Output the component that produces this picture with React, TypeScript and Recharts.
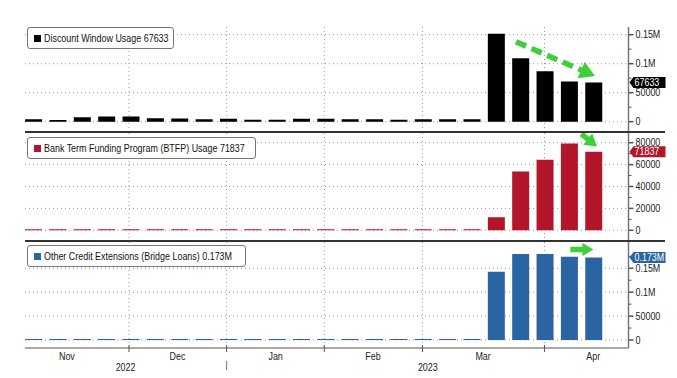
import React from 'react';
import { Bar, BarChart, CartesianGrid, ReferenceLine, XAxis, YAxis } from 'recharts';

// weekly H.4.1 readings, Wednesdays
const WEEKS = [
  '2022-11-02', '2022-11-09', '2022-11-16', '2022-11-23', '2022-11-30', '2022-12-07',
  '2022-12-14', '2022-12-21', '2022-12-28', '2023-01-04', '2023-01-11', '2023-01-18',
  '2023-01-25', '2023-02-01', '2023-02-08', '2023-02-15', '2023-02-22', '2023-03-01',
  '2023-03-08', '2023-03-15', '2023-03-22', '2023-03-29', '2023-04-05', '2023-04-12'
];
const DISCOUNT = [
  4000, 3000, 7500, 8800, 9000, 6000, 5500, 4000, 5000, 3500, 3500, 5000,
  5000, 4000, 4000, 3500, 4000, 4000, 4000, 151500, 109500, 87000, 69200, 67633
];
const BTFP = [
  0, 0, 0, 0, 0, 0, 0, 0, 0, 0, 0, 0,
  0, 0, 0, 0, 0, 0, 0, 11900, 53700, 64400, 79200, 71837
];
const OTHER = [
  0, 0, 0, 0, 0, 0, 0, 0, 0, 0, 0, 0,
  0, 0, 0, 0, 0, 0, 0, 142800, 179800, 180100, 174300, 172600
];

const MONTH_POS = [1.38, 5.92, 9.95, 13.95, 18.47, 22.99];
const MONTH_LABELS = ['Nov', 'Dec', 'Jan', 'Feb', 'Mar', 'Apr'];
const GRID_POS = [3.93, 7.94, 11.95, 15.98, 20.99];
const YEAR_POS = [3.79, 16.2];
const YEAR_LABELS = ['2022', '2023'];
const YEAR_SPLIT = 7.94;

const TICKS_DW = [0, 25000, 50000, 75000, 100000, 125000, 150000];
const GRID_DW = [0, 50000, 100000, 150000];
const TICKS_BTFP = [0, 10000, 20000, 30000, 40000, 50000, 60000, 70000, 80000];
const GRID_BTFP = [0, 20000, 40000, 60000, 80000];
const TICKS_OTHER = [0, 25000, 50000, 75000, 100000, 125000, 150000, 175000];
const GRID_OTHER = [0, 50000, 100000, 150000];

const rows = WEEKS.map((week, i) => ({ i, week, dw: DISCOUNT[i], btfp: BTFP[i], other: OTHER[i] }));

const FONT = "'Liberation Sans', Arial, sans-serif";
const NARROW = 0.85; // the terminal font is a condensed face
const GREEN = '#3fcf3a';
const RED = '#b3152b';
const BLUE = '#2b64a3';
const W = 677;
const X_DOMAIN: [number, number] = [-0.34, 24.44];
const MARGIN_L = 25;
const Y_W = 48.5;

function fmtY(v: number) {
  if (v >= 100000) return (v / 1_000_000).toString() + 'M';
  return String(v);
}

function fmtLast(v: number) {
  if (v >= 100000) return (v / 1_000_000).toFixed(3) + 'M';
  return String(v);
}

function NText({ x, y, anchor = 'start', fill = '#222', size = 10, children }: any) {
  return (
    <text transform={`translate(${x},${y}) scale(${NARROW},1)`} textAnchor={anchor} dy="0.36em"
      fill={fill} fontSize={size} fontFamily={FONT}>{children}</text>
  );
}

function YTick(props: any) {
  const { x, y, payload, major, last, color } = props;
  const v = payload.value;
  if (v === last) {
    return (
      <g>
        <polygon points={`${x + 1},${y} ${x + 5},${y - 5.5} ${x + 37},${y - 5.5} ${x + 37},${y + 5.5} ${x + 5},${y + 5.5}`} fill={color} />
        <NText x={x + 6} y={y} fill="#fff" size={10.5}>{fmtLast(v)}</NText>
      </g>
    );
  }
  const isMajor = major.includes(v);
  return (
    <g>
      <line x1={x} x2={x + (isMajor ? 5 : 3)} y1={y} y2={y} stroke="#555" strokeWidth={isMajor ? 1.5 : 1} />
      {isMajor && <NText x={x + 7} y={y} size={10.5}>{fmtY(v)}</NText>}
    </g>
  );
}

function XTick(props: any) {
  const { x, y, payload } = props;
  const v = payload.value;
  const m = MONTH_POS.indexOf(v);
  if (m >= 0) return <NText x={x} y={y + 8} anchor="middle" size={10.5}>{MONTH_LABELS[m]}</NText>;
  const yr = YEAR_POS.indexOf(v);
  if (yr >= 0) return <NText x={x} y={y + 19} anchor="middle" size={10.5}>{YEAR_LABELS[yr]}</NText>;
  return (
    <g>
      <line x1={x} x2={x} y1={y - 3} y2={y + 4} stroke="#555" />
      {v === YEAR_SPLIT && <line x1={x} x2={x} y1={y + 13} y2={y + 22} stroke="#777" />}
    </g>
  );
}

function GreenArrow(props: any) {
  const { x1, y1, x2, y2, head = 14, dashed = true } = props;
  const dx = x2 - x1;
  const dy = y2 - y1;
  const len = Math.hypot(dx, dy) || 1;
  const ux = dx / len;
  const uy = dy / len;
  const bx = x2 - ux * head;
  const by = y2 - uy * head;
  const w = head * 0.6;
  const px = -uy * w;
  const py = ux * w;
  return (
    <g>
      <line x1={x1} y1={y1} x2={bx + ux} y2={by + uy} stroke={GREEN} strokeWidth={5.5}
        strokeDasharray={dashed ? '11 6' : undefined} />
      <polygon points={`${x2},${y2} ${bx + px},${by + py} ${bx - px},${by - py}`} fill={GREEN} />
    </g>
  );
}

function LegendBox({ top, width, color, text }: { top: number; width: number; color: string; text: string }) {
  return (
    <div style={{
      position: 'absolute', left: 27, top, width, height: 22, boxSizing: 'border-box',
      border: '1px solid #777', borderRadius: 3, background: '#fff', overflow: 'hidden',
      display: 'flex', alignItems: 'center', paddingLeft: 6, fontFamily: FONT, fontSize: 10.5, color: '#111',
      whiteSpace: 'nowrap'
    }}>
      <span style={{ width: 7, height: 7, background: color, marginRight: 3, flexShrink: 0 }} />
      <span style={{ display: 'inline-block', transform: `scaleX(${NARROW})`, transformOrigin: 'left center' }}>{text}</span>
    </div>
  );
}

const gridProps = { stroke: '#9a9a9a', strokeDasharray: '1 3' };

export default function App() {
  return (
    <div style={{ position: 'absolute', left: 0, top: 0, width: W, height: 378, background: '#fff', fontFamily: FONT }}>
      <div style={{ position: 'absolute', left: 0, top: 0 }}>
        <BarChart width={W} height={133} data={rows} margin={{ top: 27, right: 0, bottom: 1, left: MARGIN_L }}>
          <CartesianGrid {...gridProps} horizontalValues={GRID_DW} verticalValues={GRID_POS} />
          <XAxis dataKey="i" type="number" domain={X_DOMAIN} hide />
          <YAxis orientation="right" width={Y_W} domain={[-17800, 163300]} ticks={[...TICKS_DW, DISCOUNT[23]]}
            interval={0} tickSize={0} tickMargin={0} tickLine={false} axisLine={{ stroke: '#777', strokeWidth: 1.5 }}
            tick={<YTick major={GRID_DW} last={DISCOUNT[23]} color="#000" />} allowDataOverflow />
          <Bar dataKey="dw" fill="#000" barSize={17} minPointSize={1} isAnimationActive={false} />
          <ReferenceLine segment={[{ x: 19.82, y: 137900 }, { x: 23.06, y: 78800 }]} ifOverflow="visible"
            shape={(p: any) => <GreenArrow {...p} head={15} />} />
        </BarChart>
      </div>
      <div style={{ position: 'absolute', left: 0, top: 133 }}>
        <BarChart width={W} height={108} data={rows} margin={{ top: 0, right: 0, bottom: 0, left: MARGIN_L }}>
          <CartesianGrid {...gridProps} horizontalValues={GRID_BTFP} verticalValues={GRID_POS} />
          <XAxis dataKey="i" type="number" domain={X_DOMAIN} hide />
          <YAxis orientation="right" width={Y_W} domain={[-9770, 88860]} ticks={[...TICKS_BTFP, BTFP[23]]}
            interval={0} tickSize={0} tickMargin={0} tickLine={false} axisLine={{ stroke: '#777', strokeWidth: 1.5 }}
            tick={<YTick major={GRID_BTFP} last={BTFP[23]} color={RED} />} allowDataOverflow />
          <Bar dataKey="btfp" fill={RED} barSize={17} minPointSize={1} isAnimationActive={false} />
          <ReferenceLine segment={[{ x: 22.5, y: 88000 }, { x: 23.15, y: 76500 }]} ifOverflow="visible"
            shape={(p: any) => <GreenArrow {...p} head={12} dashed={false} />} />
        </BarChart>
      </div>
      <div style={{ position: 'absolute', left: 0, top: 241 }}>
        <BarChart width={W} height={137} data={rows} margin={{ top: 1, right: 0, bottom: 0, left: MARGIN_L }}>
          <CartesianGrid {...gridProps} horizontalValues={GRID_OTHER} verticalValues={GRID_POS} />
          <XAxis dataKey="i" type="number" domain={X_DOMAIN} height={30}
            ticks={[...MONTH_POS, ...GRID_POS, ...YEAR_POS]} interval={0} tickSize={0} tickMargin={0}
            tickLine={false} axisLine={{ stroke: '#555' }} tick={<XTick />} />
          <YAxis orientation="right" width={Y_W} domain={[-16740, 205020]} ticks={[...TICKS_OTHER, OTHER[23]]}
            interval={0} tickSize={0} tickMargin={0} tickLine={false} axisLine={{ stroke: '#777', strokeWidth: 1.5 }}
            tick={<YTick major={GRID_OTHER} last={OTHER[23]} color={BLUE} />} allowDataOverflow />
          <Bar dataKey="other" fill={BLUE} barSize={17} minPointSize={1} isAnimationActive={false} />
          <ReferenceLine segment={[{ x: 22.05, y: 189300 }, { x: 23.0, y: 189300 }]} ifOverflow="visible"
            shape={(p: any) => <GreenArrow {...p} head={11} dashed={false} />} />
        </BarChart>
      </div>
      <div style={{ position: 'absolute', left: MARGIN_L, top: 131, width: 640, height: 2, background: '#333' }} />
      <div style={{ position: 'absolute', left: MARGIN_L, top: 240, width: 640, height: 2, background: '#333' }} />
      <LegendBox top={27} width={147} color="#000" text={`Discount Window Usage ${DISCOUNT[23]}`} />
      <LegendBox top={137} width={229} color={RED} text={`Bank Term Funding Program (BTFP) Usage ${BTFP[23]}`} />
      <LegendBox top={245} width={219} color={BLUE} text={`Other Credit Extensions (Bridge Loans) ${fmtLast(OTHER[23])}`} />
    </div>
  );
}
